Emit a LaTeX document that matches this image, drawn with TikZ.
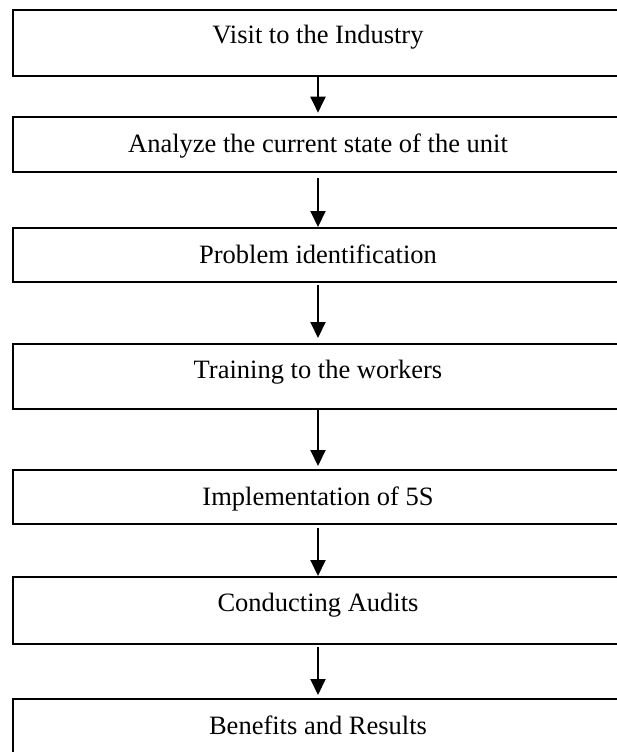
\documentclass[tikz,border=0pt]{standalone}
\usepackage{fontspec}
\setmainfont{Liberation Serif}
\usetikzlibrary{arrows.meta}
\begin{document}
\begin{tikzpicture}[x=1pt,y=-1pt,
  box/.style={draw=black, line width=2pt, rectangle, inner sep=0pt, outer sep=0pt, minimum width=617.3pt},
  lbl/.style={anchor=base, inner sep=0pt, font=\fontsize{26.5}{30}\selectfont},
  arr/.style={line width=2pt, -{Triangle[width=15pt,length=16pt]}}]
\useasboundingbox (0,0) rectangle (617,752);
\clip (0,0) rectangle (617,752);
% boxes
\node[box, minimum height=66pt]   (b1) at (321.35,43) {};
\node[box, minimum height=54.7pt] (b2) at (321.35,144.65) {};
\node[box, minimum height=53.4pt] (b3) at (321.35,255) {};
\node[box, minimum height=65pt]   (b4) at (321.35,376.5) {};
\node[box, minimum height=54pt]   (b5) at (321.35,497) {};
\node[box, minimum height=67pt]   (b6) at (321.35,610.5) {};
\node[box, minimum height=81pt]   (b7) at (321.35,739.5) {};
% labels
\node[lbl] (t1) at (318,43.3)  {Visit to the Industry};
\node[lbl] (t2) at (318,152)   {Analyze the current state of the unit};
\node[lbl] (t3) at (318,263.3) {Problem identification};
\node[lbl] (t4) at (318,378.3) {Training to the workers};
\node[lbl] (t5) at (318,505.6) {Implementation of 5S};
\node[lbl] (t6) at (318,611)   {Conducting Audits};
\node[lbl] (t7) at (318,734)   {Benefits and Results};
% arrows
\draw[arr] (b1.south -| t1) -- ([yshift=4.6pt]b2.north -| t1);
\draw[arr] ([yshift=-6pt]b2.south -| t1) -- ([yshift=1.3pt]b3.north -| t1);
\draw[arr] ([yshift=-3pt]b3.south -| t1) -- ([yshift=6pt]b4.north -| t1);
\draw[arr] ([yshift=-1pt]b4.south -| t1) -- ([yshift=4pt]b5.north -| t1);
\draw[arr] ([yshift=-4pt]b5.south -| t1) -- ([yshift=1pt]b6.north -| t1);
\draw[arr] ([yshift=-3pt]b6.south -| t1) -- ([yshift=4pt]b7.north -| t1);
\end{tikzpicture}
\end{document}
